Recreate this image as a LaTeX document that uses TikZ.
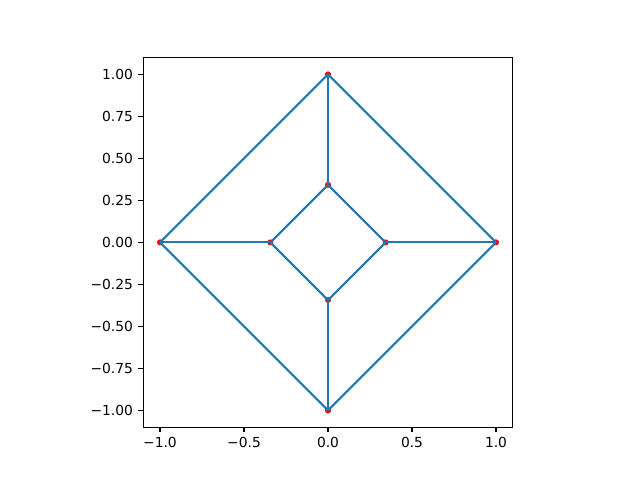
\documentclass[tikz,border=0pt]{standalone}
\usepackage{fontspec}
\setmainfont{DejaVu Sans}
\definecolor{tabblue}{HTML}{1F77B4}
\tikzset{
    edge/.style={tabblue,line width=1.5pt,line join=round},
    vertex/.style={red},
    tick/.style={line width=0.8pt},
}
\begin{document}
\begin{tikzpicture}[x=1.68in,y=1.68in]
        \useasboundingbox (-1.9524,-1.4143) rectangle (1.8571,1.4429);
        \draw[line width=0.8pt] (-1.1,-1.1) rectangle (1.1,1.1);
        \foreach \x/\t in {-1/−1.0,-0.5/−0.5,0/0.0,0.5/0.5,1/1.0}
            \draw[tick] (\x,-1.1)--++(0,-3.5pt) node[below=3.5pt,inner sep=0pt] {\t};
        \foreach \y/\t in {-1/−1.00,-0.75/−0.75,-0.5/−0.50,-0.25/−0.25,0/0.00,0.25/0.25,0.5/0.50,0.75/0.75,1/1.00}
            \draw[tick] (-1.1,\y)--++(-3.5pt,0) node[left=3.5pt,inner sep=0pt] {\t};
        \coordinate (N) at (0,1);
        \coordinate (W) at (-1,0);
        \coordinate (S) at (0,-1);
        \coordinate (E) at (1,0);
        \coordinate (n) at (0,0.343);
        \coordinate (w) at (-0.343,0);
        \coordinate (s) at (0,-0.343);
        \coordinate (e) at (0.343,0);
        \foreach \v in {N,W,S,E,n,w,s,e}
            \fill[vertex] (\v) circle[radius=2.2pt];
        \draw[edge] (E)--(N)--(W)--(S)--cycle;
        \draw[edge] (e)--(n)--(w)--(s)--cycle;
        \draw[edge] (N)--(n) (W)--(w) (S)--(s) (E)--(e);
    \end{tikzpicture}
\end{document}
